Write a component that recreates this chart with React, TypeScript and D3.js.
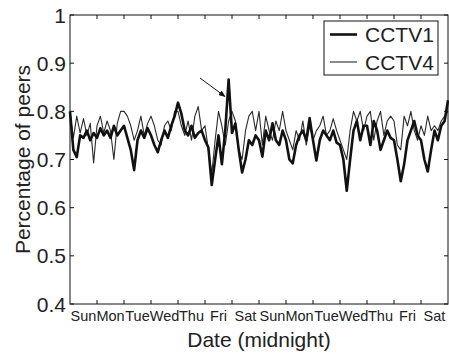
import React from "react";
import * as d3 from "d3";

const dayLabels = ["Sun", "Mon", "Tue", "Wed", "Thu", "Fri", "Sat", "Sun", "Mon", "Tue", "Wed", "Thu", "Fri", "Sat"];
const yTicks = [0.4, 0.5, 0.6, 0.7, 0.8, 0.9, 1];
const yTickLabels = ["0.4", "0.5", "0.6", "0.7", "0.8", "0.9", "1"];
const samplesPerDay = 8;

const cctv1 = [
  0.800, 0.720, 0.705, 0.750, 0.745, 0.760, 0.740, 0.755,
  0.745, 0.765, 0.750, 0.760, 0.745, 0.770, 0.750, 0.760,
  0.770, 0.745, 0.720, 0.678, 0.740, 0.760, 0.745, 0.765,
  0.750, 0.730, 0.715, 0.740, 0.760, 0.745, 0.770, 0.790,
  0.818, 0.795, 0.760, 0.750, 0.770, 0.745, 0.755, 0.760,
  0.740, 0.725, 0.647, 0.700, 0.750, 0.690, 0.760, 0.866,
  0.755, 0.775, 0.720, 0.673, 0.700, 0.740, 0.730, 0.750,
  0.740, 0.706, 0.760, 0.740, 0.775, 0.740, 0.730, 0.760,
  0.740, 0.700, 0.692, 0.730, 0.750, 0.760, 0.740, 0.786,
  0.740, 0.698, 0.740, 0.760, 0.750, 0.740, 0.760, 0.735,
  0.730, 0.700, 0.635, 0.700, 0.760, 0.780, 0.740, 0.770,
  0.770, 0.730, 0.780, 0.760, 0.720, 0.740, 0.760, 0.745,
  0.740, 0.700, 0.655, 0.690, 0.740, 0.760, 0.780, 0.750,
  0.740, 0.700, 0.675, 0.720, 0.760, 0.740, 0.770, 0.780,
  0.823,
];

const cctv4 = [
  0.795, 0.745, 0.790, 0.755, 0.785, 0.750, 0.775, 0.693,
  0.770, 0.790, 0.755, 0.780, 0.760, 0.700, 0.775, 0.800,
  0.800, 0.790, 0.770, 0.740, 0.760, 0.790, 0.750, 0.775,
  0.790, 0.770, 0.740, 0.730, 0.770, 0.780, 0.760, 0.800,
  0.800, 0.770, 0.750, 0.780, 0.740, 0.790, 0.810, 0.760,
  0.770, 0.720, 0.670, 0.740, 0.800, 0.770, 0.730, 0.780,
  0.800, 0.780, 0.720, 0.700, 0.760, 0.790, 0.800, 0.760,
  0.800, 0.730, 0.790, 0.760, 0.740, 0.780, 0.760, 0.800,
  0.760, 0.740, 0.720, 0.760, 0.740, 0.780, 0.730, 0.770,
  0.740, 0.760, 0.770, 0.790, 0.750, 0.760, 0.785, 0.760,
  0.740, 0.720, 0.700, 0.760, 0.800, 0.780, 0.800, 0.760,
  0.790, 0.800, 0.740, 0.780, 0.800, 0.750, 0.780, 0.790,
  0.780, 0.730, 0.720, 0.790, 0.770, 0.800, 0.760, 0.740,
  0.770, 0.750, 0.790, 0.760, 0.770, 0.760, 0.780, 0.790,
  0.800,
];

const W = 449;
const H = 354;
const M = { left: 70, right: 448, top: 15, bottom: 304 };
const FONT = "'Liberation Sans', Arial, Helvetica, sans-serif";

export default function App() {
  const x = d3.scaleLinear().domain([0, dayLabels.length]).range([M.left, M.right]);
  const y = d3.scaleLinear().domain([0.4, 1]).range([M.bottom, M.top]);
  const line = d3
    .line<number>()
    .x((_, i) => x(i / samplesPerDay))
    .y((v) => y(v));
  const dayTicks = d3.range(1, dayLabels.length);
  const tl = 4;

  return (
    <svg width={W} height={H} style={{ position: "absolute", left: 0, top: 0, background: "#fff" }}>
      <defs>
        <marker id="ah" viewBox="0 0 10 10" refX="9" refY="5" markerWidth="7" markerHeight="7" orient="auto">
          <path d="M0,1 L10,5 L0,9 z" fill="#111" />
        </marker>
      </defs>
      {/* data lines */}
      <path d={line(cctv4) || ""} fill="none" stroke="#2a2a2a" strokeWidth={1.1} strokeLinejoin="round" />
      <path d={line(cctv1) || ""} fill="none" stroke="#111" strokeWidth={2.6} strokeLinejoin="round" />

      {/* axes box */}
      <rect x={M.left} y={M.top} width={M.right - M.left} height={M.bottom - M.top} fill="none" stroke="#111" strokeWidth={1} />

      {/* y ticks */}
      {yTicks.map((t, i) => (
        <g key={"y" + i}>
          <line x1={M.left} x2={M.left + tl} y1={y(t)} y2={y(t)} stroke="#111" />
          <line x1={M.right - tl} x2={M.right} y1={y(t)} y2={y(t)} stroke="#111" />
          <text x={66} y={y(t)} dy="0.36em" textAnchor="end" fontSize={21} fontFamily={FONT} fill="#222">
            {yTickLabels[i]}
          </text>
        </g>
      ))}

      {/* x ticks */}
      {dayTicks.map((d) => (
        <g key={"x" + d}>
          <line x1={x(d)} x2={x(d)} y1={M.bottom} y2={M.bottom - tl} stroke="#111" />
          <line x1={x(d)} x2={x(d)} y1={M.top} y2={M.top + tl} stroke="#111" />
        </g>
      ))}
      {dayLabels.map((lab, i) => (
        <text key={"xl" + i} x={x(i + 0.5)} y={321} textAnchor="middle" fontSize={14.5} fontFamily={FONT} fill="#222">
          {lab}
        </text>
      ))}

      {/* axis titles */}
      <text x={(M.left + M.right) / 2} y={347} textAnchor="middle" fontSize={21} fontFamily={FONT} fill="#222">
        Date (midnight)
      </text>
      <text
        transform={`translate(30, ${(M.top + M.bottom) / 2}) rotate(-90)`}
        textAnchor="middle"
        fontSize={21}
        fontFamily={FONT}
        fill="#222"
      >
        Percentage of peers
      </text>

      {/* arrow annotation */}
      <line x1={200} y1={78} x2={225} y2={96.5} stroke="#111" strokeWidth={1} markerEnd="url(#ah)" />

      {/* legend */}
      <rect x={324} y={21} width={114} height={54} fill="#fff" stroke="#111" strokeWidth={1} />
      <line x1={330} x2={357} y1={34.5} y2={34.5} stroke="#111" strokeWidth={2.6} />
      <text x={365} y={34.5} dy="0.36em" fontSize={21} fontFamily={FONT} fill="#222">CCTV1</text>
      <line x1={330} x2={357} y1={62} y2={62} stroke="#2a2a2a" strokeWidth={1.1} />
      <text x={365} y={62} dy="0.36em" fontSize={21} fontFamily={FONT} fill="#222">CCTV4</text>
    </svg>
  );
}
